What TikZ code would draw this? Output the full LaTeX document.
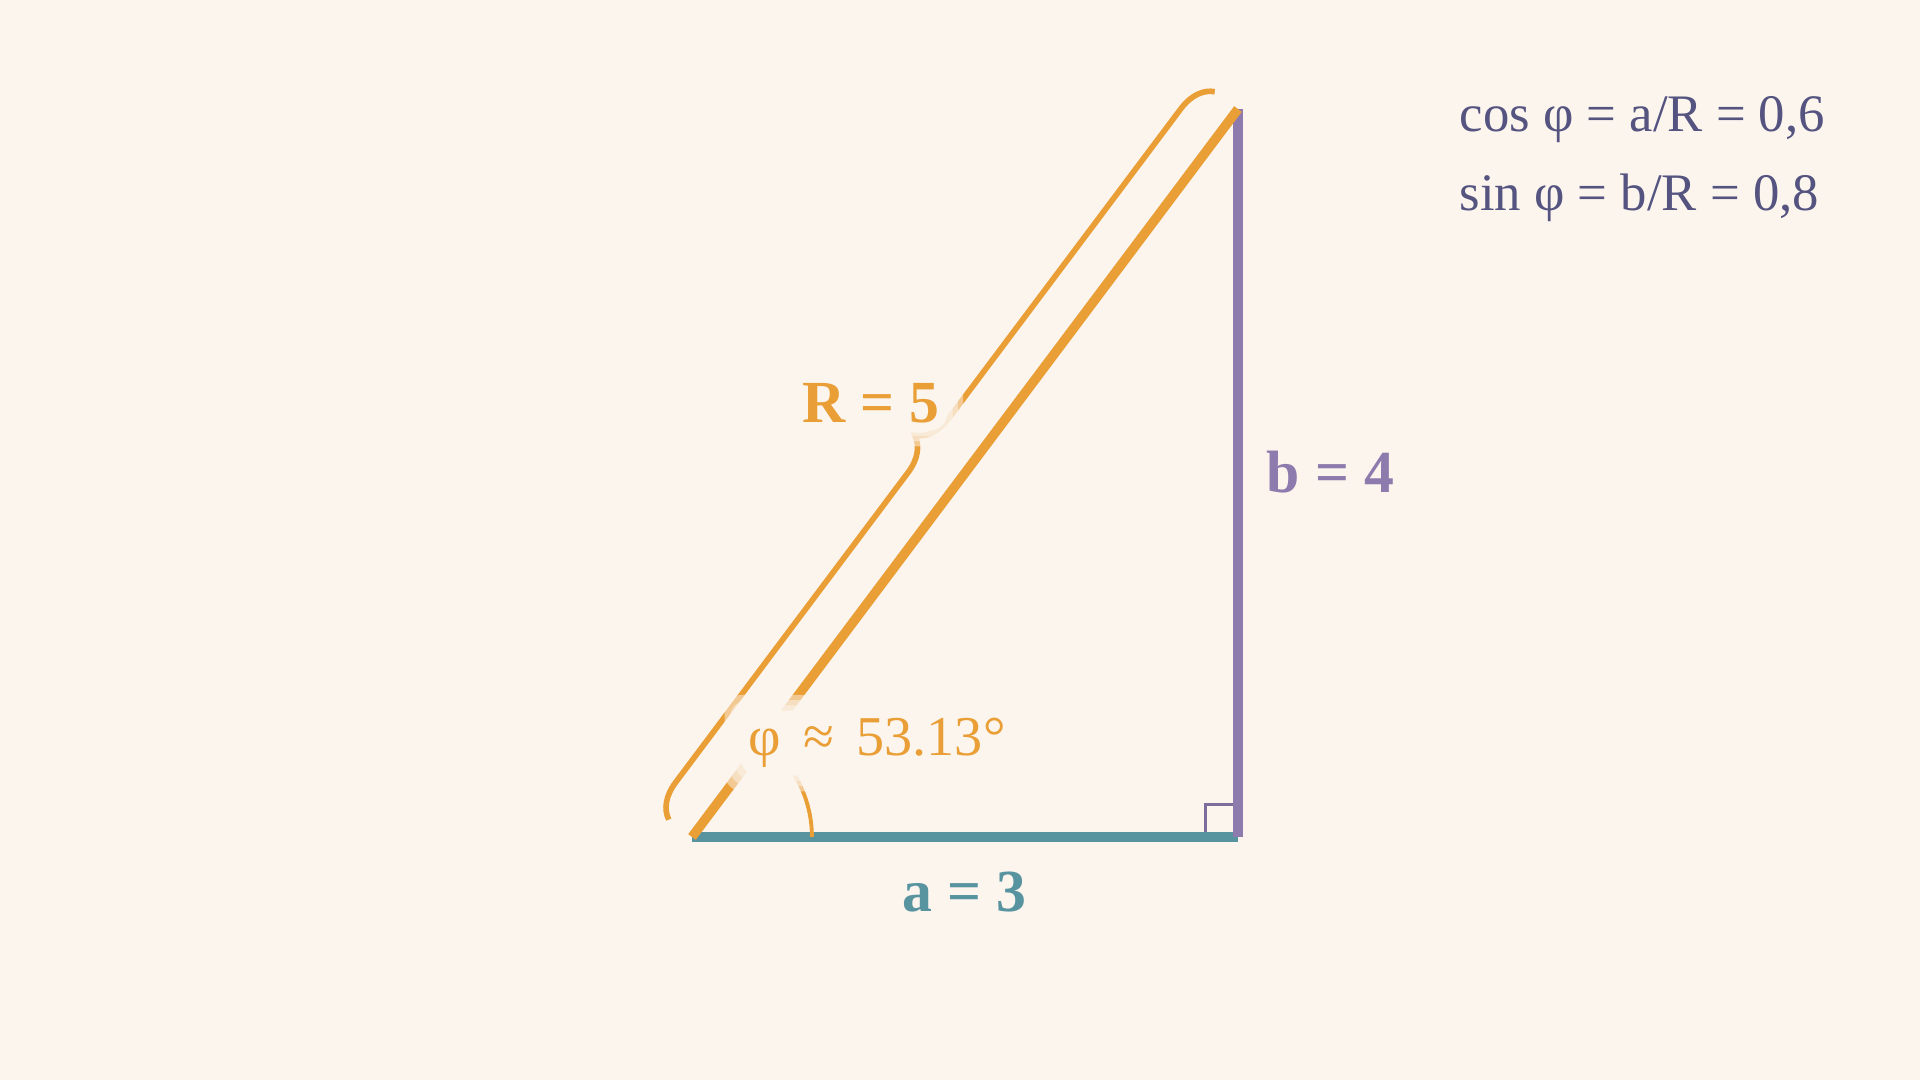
\documentclass[tikz,border=0pt]{standalone}
\usepackage{fontspec}
\setmainfont{Liberation Serif}
\usepackage{xcolor}
\usepackage{tikz}
\usetikzlibrary{calc}
\usetikzlibrary{decorations.pathreplacing}
\definecolor{BG}{HTML}{FBF5EE}
\definecolor{C1}{HTML}{EA9E36}
\definecolor{C9}{HTML}{5893A0}
\definecolor{C4}{HTML}{8E7BAD}
\definecolor{C5}{HTML}{7C6D9D}
\definecolor{C8}{HTML}{55537F}
\pgfdeclarelayer{lines}
\pgfdeclarelayer{veil}
\pgfsetlayers{lines,veil,main}

\begin{document}
\begin{tikzpicture}[x=1.82cm, y=1.82cm,
    lbl/.style={inner sep=2pt},
    big/.style={font=\fontsize{17pt}{20pt}\selectfont\bfseries},
    txt/.style={font=\fontsize{16pt}{19pt}\selectfont}]
\begin{pgfonlayer}{lines}
\fill[BG] (-3.8022,-1.3352) rectangle (6.7473,4.5989);
\end{pgfonlayer}
\useasboundingbox (-3.8022,-1.3352) rectangle (6.7473,4.5989);
%
\coordinate (A) at (0,0);
\coordinate (B) at (3,0);
\coordinate (C) at (3,4);
\coordinate (Ba) at ($(B)+(-0.18,0)$);
\coordinate (Bb) at ($(B)+(0,0.18)$);
\coordinate (arcstart) at ($(A)+(0.659,0)$);
%
\begin{pgfonlayer}{lines}
\draw[line width=0.85pt, C5] (Ba) |- (Bb);
\draw[line width=3pt, C9] (A) -- (B);
\draw[line width=3pt, C4] (B) -- (C);
\draw[line width=2.7pt, C1] (A) -- (C);
\draw[line width=1.1pt, C1] (arcstart) arc[start angle=0, end angle=53.13, radius=0.659];
\draw[line width=1.6pt, C1, decorate, decoration={brace, amplitude=0.337cm, raise=0.29cm}] (A) -- (C);
\end{pgfonlayer}
%
\node[lbl, big, text=C1] (Rlbl) at (0.984,2.385) {R = 5};
\node[lbl, txt, text=C1] (philbl) at (1.016,0.516) {φ\hspace{0.4em}≈\hspace{0.4em}53.13°};
\node[lbl, big, text=C9] (albl) at (1.495,-0.302) {a = 3};
\node[lbl, big, text=C4] (blbl) at (3.508,2.005) {b = 4};
%
\node[txt, text=C8, anchor=base west, inner sep=0pt, font=\fontsize{15pt}{18pt}\selectfont] (cosphi) at (4.214,3.874) {cos φ = a/R = 0,6};
\node[txt, text=C8, anchor=base west, inner sep=0pt, font=\fontsize{15pt}{18pt}\selectfont] (sinphi) at (4.214,3.445) {sin φ = b/R = 0,8};
%
% soft patches behind the two labels that sit on lines
\begin{pgfonlayer}{veil}
\foreach \n in {Rlbl,philbl}
  \foreach \d/\o in {0pt/1, 1.5pt/0.5, 3pt/0.5, 4.5pt/0.5}
    \fill[BG, opacity=\o, rounded corners=5pt] ($(\n.south west)+(-\d,-\d)$) rectangle ($(\n.north east)+(\d,\d)$);
\end{pgfonlayer}
\end{tikzpicture}
\end{document}
